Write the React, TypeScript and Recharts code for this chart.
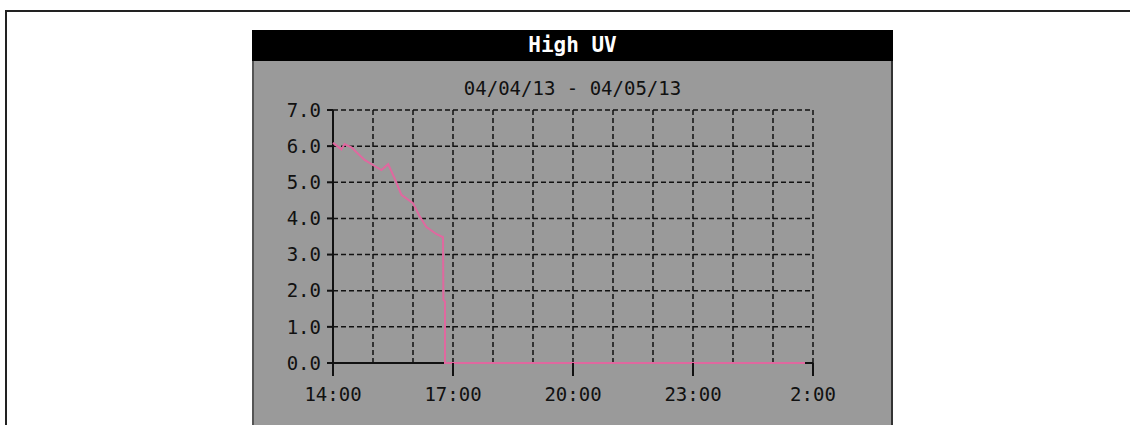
import { LineChart, Line, XAxis, YAxis, CartesianGrid } from "recharts";

// hours since 14:00 on 04/04/13
const hours = [0, 0.21, 0.29, 0.46, 0.79, 1.04, 1.21, 1.38, 1.54, 1.71, 2.0, 2.17, 2.33, 2.58, 2.75, 2.76, 2.8, 2.8, 11.8];
const highUv = [6.09, 5.91, 6.06, 5.97, 5.62, 5.45, 5.34, 5.5, 5.11, 4.65, 4.42, 4.05, 3.77, 3.57, 3.48, 1.75, 1.7, 0, 0];

const hourTicks = [0, 1, 2, 3, 4, 5, 6, 7, 8, 9, 10, 11, 12];
const hourLabels = ["14:00", "", "", "17:00", "", "", "20:00", "", "", "23:00", "", "", "2:00"];
const uvTicks = [0, 1, 2, 3, 4, 5, 6, 7];

const data = hours.map((h, i) => ({ h, uv: highUv[i] }));

const MONO = "'DejaVu Sans Mono', monospace";
const TICK_SIZE = 13;
const TICK_MARGIN = 4;

function HourTick(props: any) {
  const { x, y, payload } = props;
  const label = hourLabels[payload.index] ?? hourLabels[hourTicks.indexOf(payload.value)];
  if (!label) return null;
  const axisY = y - TICK_SIZE - TICK_MARGIN;
  return (
    <g>
      <line x1={x} x2={x} y1={axisY} y2={axisY + TICK_SIZE} stroke="#111" strokeWidth={2} />
      <text x={x} y={axisY + 38} textAnchor="middle" fontFamily={MONO} fontSize={19} fill="#111">
        {label}
      </text>
    </g>
  );
}

export default function App() {
  return (
    <div style={{ position: "absolute", left: 0, top: 0, width: 1130, height: 425, overflow: "hidden", background: "#fff" }}>
      <div
        style={{
          position: "absolute",
          left: 5,
          top: 10,
          width: 1140,
          height: 430,
          borderLeft: "2px solid #222",
          borderTop: "2px solid #222",
        }}
      />
      <div
        style={{
          position: "absolute",
          left: 252,
          top: 30,
          width: 641,
          height: 31,
          background: "#000",
          color: "#fff",
          fontFamily: MONO,
          fontWeight: "bold",
          fontSize: 21,
          lineHeight: "31px",
          textAlign: "center",
        }}
      >
        High UV
      </div>
      <div
        style={{
          position: "absolute",
          left: 252,
          top: 61,
          width: 641,
          height: 370,
          boxSizing: "border-box",
          background: "#9a9a9a",
          borderLeft: "2px solid #555",
          borderRight: "2px solid #333",
        }}
      />
      <div
        style={{
          position: "absolute",
          left: 252,
          top: 76,
          width: 641,
          textAlign: "center",
          fontFamily: MONO,
          fontSize: 19,
          lineHeight: "24px",
          color: "#111",
        }}
      >
        04/04/13 - 04/05/13
      </div>
      <div style={{ position: "absolute", left: 252, top: 61 }}>
        <LineChart width={641} height={364} data={data} margin={{ top: 49, right: 80, bottom: 22, left: 21 }}>
          <CartesianGrid stroke="#111" strokeDasharray="5 3" strokeWidth={1.5} />
          <XAxis
            dataKey="h"
            type="number"
            domain={[0, 12]}
            ticks={hourTicks}
            interval={0}
            tickLine={false}
            tickSize={TICK_SIZE}
            tickMargin={TICK_MARGIN}
            height={40}
            axisLine={{ stroke: "#111", strokeWidth: 2 }}
            tick={<HourTick />}
          />
          <YAxis
            type="number"
            domain={[0, 7]}
            ticks={uvTicks}
            interval={0}
            width={60}
            tickSize={6}
            tickMargin={6}
            tickFormatter={(v: number) => v.toFixed(1)}
            tick={{ fontFamily: MONO, fontSize: 19, fill: "#111" }}
            tickLine={{ stroke: "#111", strokeWidth: 2 }}
            axisLine={{ stroke: "#111", strokeWidth: 2 }}
          />
          <Line
            type="linear"
            dataKey="uv"
            stroke="#e0689f"
            strokeWidth={2}
            dot={false}
            isAnimationActive={false}
            zIndex={600}
          />
        </LineChart>
      </div>
    </div>
  );
}
